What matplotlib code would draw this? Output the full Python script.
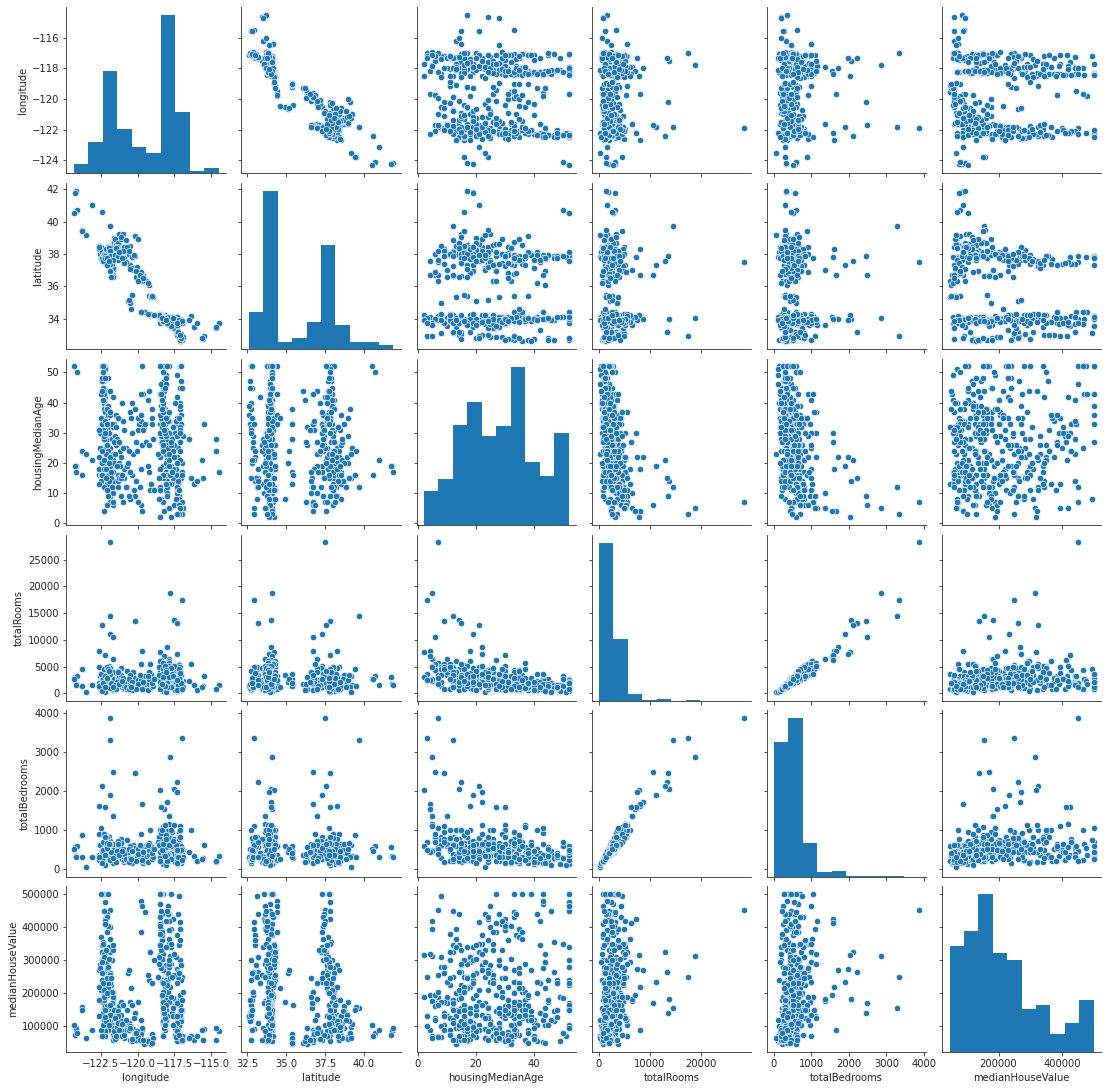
import matplotlib
matplotlib.use("Agg")
import matplotlib.pyplot as plt
import numpy as np

names = ["longitude", "latitude", "housingMedianAge", "totalRooms", "totalBedrooms", "medianHouseValue"]

longitude = [
-121.9,-117.8,-117.0,-121.85,-120.2,-117.5,-117.3,-122.4,-121.85,-121.7,
-118.0,-122.65,-119.7,-118.5,-117.3,-117.9,-121.65,-118.2,-122.2,-118.4,
-118.3,-118.2,-118.4,-118.1,-118.3,-118.0,-118.2,-118.35,-118.15,-118.25,
-118.45,-118.1,-118.2,-118.3,-118.05,-118.5,-118.25,-118.15,-118.4,-118.0,
-118.35,-118.2,-118.05,-118.3,-118.15,-118.45,-117.95,-118.1,-118.25,-118.4,
-118.5,-118.3,-118.2,-118.1,-118.0,-118.35,-118.15,-118.25,-118.05,-118.4,
-118.3,-118.45,-118.2,-118.1,-117.95,-118.3,-118.15,-118.4,-118.05,-118.25,
-118.2,-118.35,-118.5,-118.0,-118.1,-118.25,-118.4,-118.15,-118.3,-118.05,
-118.3,-118.2,-118.1,-118.45,-118.0,-118.15,-118.35,-118.25,-118.05,-118.55,
-117.85,-117.7,-117.6,-117.8,-117.3,-117.2,-117.1,-117.15,-117.05,-117.25,
-117.4,-117.35,-117.2,-117.6,-117.9,-117.0,-117.15,-117.3,-117.5,-117.75,
-117.05,-117.2,-117.3,-117.45,-117.1,-116.95,-117.65,-117.25,-117.35,-117.0,
-117.2,-117.15,-117.3,-117.7,-117.85,-117.6,-117.05,-117.4,-117.25,-117.1,
-117.35,-117.0,-117.15,-117.95,-117.5,-117.8,-117.25,-117.9,-117.1,-117.05,
-117.2,-117.3,-117.6,-117.85,-117.05,-117.15,-117.7,-117.3,-117.1,-117.9,
-122.4,-122.3,-122.2,-122.1,-122.0,-121.9,-122.25,-122.45,-122.15,-122.05,
-122.5,-122.2,-122.0,-122.35,-121.95,-121.85,-122.1,-122.55,-122.3,-122.2,
-122.0,-122.1,-121.9,-122.4,-122.25,-122.05,-121.8,-122.3,-122.15,-122.6,
-122.45,-122.0,-122.2,-122.3,-121.85,-122.1,-122.35,-121.95,-122.25,-122.5,
-122.65,-122.4,-122.05,-122.2,-121.75,-122.15,-122.3,-121.7,-122.0,-122.1,
-121.8,-122.25,-122.45,-122.0,-121.65,-122.1,-122.35,-121.75,-122.2,-121.9,
-121.7,-121.6,-121.85,-121.5,-122.3,-121.95,-122.0,-121.65,-121.8,-121.7,
-122.5,-122.2,-121.6,-121.75,-121.5,-121.85,-122.05,-122.65,-122.4,-121.9,
-122.3,-121.6,-122.0,-122.35,-121.55,-122.15,-121.7,-121.85,-122.25,-122.55,
-121.4,-121.3,-121.2,-121.0,-120.9,-120.7,-120.5,-120.3,-120.0,-119.8,
-121.45,-121.25,-121.1,-120.8,-120.6,-120.4,-120.1,-119.9,-119.7,-119.6,
-121.35,-121.15,-121.05,-120.95,-120.55,-120.25,-119.8,-119.75,-119.55,-119.4,
-121.25,-121.0,-120.2,-120.0,-120.75,-119.25,-119.2,-119.1,-119.3,-119.05,
-120.65,-120.5,-120.4,-119.8,-119.7,-119.5,-119.2,-119.0,-120.6,-119.15,
-124.2,-124.15,-124.25,-124.1,-124.3,-123.8,-123.5,-123.8,-123.1,-122.4,
-116.4,-116.2,-115.55,-115.5,-114.65,-114.5,-116.0,-115.6,-116.5,-114.7,
-118.6,-118.5,-118.0,-117.95,-117.9,-118.45,-118.3,-118.1,-118.25,-117.85,
-117.1,-117.3,-117.0,-117.2,-116.95,-117.55,-117.65,-117.4,-117.7,-117.45,
-118.2,-118.1,-118.4,-118.3,-118.05,-117.95,-118.35,-118.15,-117.9,-118.0,
-117.25,-117.15,-117.05,-117.3,-117.6,-117.75,-117.2,-117.0,-117.35,-117.1,
-118.45,-118.3,-118.2,-118.55,-118.1,-118.0,-118.25,-118.15,-118.35,-118.05,
-122.5,-122.4,-122.35,-122.25,-122.15,-122.05,-121.95,-121.85,-121.75,-121.6,
-121.2,-120.9,-121.1,-120.8,-120.6,-120.35,-120.05,-121.3,-121.0,-120.5,
-122.6,-122.45,-122.3,-122.15,-122.0,-121.9,-121.8,-122.35,-122.2,-122.1,
-121.4,-121.55,-121.5,-121.65,-121.35,-121.25,-121.05,-122.2,-122.05,-121.95,
-119.75,-119.95,-120.1,-119.85,-119.65,-120.45,-119.3,-118.95,-119.05,-118.9,
]

latitude = [
37.5,34.05,32.95,39.7,37.85,34.0,33.15,37.55,37.3,36.7,
34.0,38.3,36.7,34.2,33.9,33.6,37.0,34.1,37.8,34.0,
34.0,33.9,34.05,34.1,33.95,33.85,34.0,34.1,33.95,34.05,
34.15,33.9,33.95,34.05,34.0,34.2,33.9,34.05,34.0,33.85,
33.8,34.1,33.95,34.0,34.2,33.98,34.0,34.05,33.95,34.2,
34.25,33.95,33.93,34.02,33.92,34.05,33.98,34.08,34.1,33.93,
34.0,34.05,33.9,34.08,33.88,33.9,34.02,33.98,33.93,34.15,
33.95,34.08,34.2,34.0,33.9,33.96,34.03,34.12,33.93,33.98,
33.85,34.0,33.95,34.15,34.05,33.9,33.75,34.02,33.92,34.28,
33.7,33.6,33.9,33.8,33.95,33.0,32.7,32.75,32.65,32.85,
33.2,34.05,33.8,33.55,33.75,32.8,32.72,33.95,33.95,33.65,
32.6,33.1,33.0,34.0,32.8,33.7,34.1,34.05,34.1,33.75,
34.05,32.95,33.55,33.5,33.68,34.0,32.7,34.0,33.1,32.85,
33.3,33.9,32.72,33.85,33.45,33.85,33.85,33.65,32.75,33.05,
33.95,34.1,33.95,33.9,32.68,33.7,33.9,33.9,32.62,33.8,
37.75,37.85,37.8,37.4,37.3,37.35,37.85,37.78,37.7,37.35,
37.7,37.5,37.35,37.9,37.3,37.25,37.65,38.25,37.95,37.45,
37.95,37.6,37.35,37.95,37.8,37.95,37.75,38.1,37.4,38.4,
37.72,38.25,37.75,37.98,37.65,37.85,37.93,37.28,37.78,38.05,
38.3,37.95,38.0,38.05,38.0,37.62,37.95,37.1,37.6,38.0,
38.0,38.1,37.75,38.4,38.55,38.0,37.95,37.35,37.8,38.0,
38.6,38.7,38.0,38.55,38.2,38.1,37.95,38.4,36.65,36.7,
38.4,37.8,38.75,36.65,38.6,36.95,38.1,38.5,37.65,36.95,
37.55,39.0,37.9,37.95,38.95,37.75,36.6,37.35,37.68,38.0,
38.6,38.5,38.0,37.6,37.75,38.1,37.3,37.0,36.8,36.8,
38.55,38.7,38.3,37.5,38.0,37.8,36.6,36.75,36.35,36.7,
38.65,38.9,37.65,38.4,38.5,37.95,36.8,36.85,36.35,36.3,
39.2,39.25,39.1,38.95,38.45,36.05,35.4,35.35,36.2,35.4,
35.1,34.95,35.45,34.42,34.42,34.4,34.25,34.2,35.15,34.3,
41.8,41.9,41.75,40.7,40.5,39.5,39.15,39.4,41.0,40.6,
34.15,33.5,32.75,32.95,33.45,33.7,33.7,32.8,33.9,33.5,
34.2,34.02,33.75,33.65,33.85,33.75,33.8,34.1,33.85,33.6,
32.9,33.2,32.65,32.78,32.85,33.8,33.6,33.9,33.7,33.95,
33.98,33.93,33.97,33.95,33.78,34.1,33.92,34.0,33.7,34.12,
33.15,32.7,32.8,33.6,34.05,33.55,33.9,33.85,33.75,33.0,
34.1,34.0,33.88,34.22,33.82,33.7,33.83,34.05,34.03,33.9,
37.75,38.1,37.85,38.0,38.3,38.0,38.35,38.2,37.7,37.9,
37.8,37.45,39.05,38.85,38.2,37.15,37.2,37.65,38.15,37.05,
38.45,37.75,37.92,37.42,37.85,37.9,36.6,37.55,37.85,37.3,
38.45,37.95,38.35,37.65,37.9,38.1,37.75,37.75,37.75,37.55,
34.42,36.3,36.95,36.7,36.5,34.6,34.3,35.35,35.4,34.2,
]

housingMedianAge = [
7,5,3,12,9,14,15,21,19,6,
22,18,4,2,22,5,10,4,30,27,
52,52,52,49,45,36,38,41,30,35,
33,28,25,44,17,22,19,37,39,14,
31,29,34,27,52,43,16,13,35,8,
18,40,47,24,21,32,36,50,11,29,
52,30,33,26,20,15,38,46,23,7,
37,34,12,19,28,42,35,31,25,16,
39,44,20,36,10,33,27,40,31,8,
21,17,15,29,33,14,38,52,33,25,
18,11,9,24,52,20,32,16,6,13,
36,8,22,30,45,5,28,13,35,17,
3,21,10,19,30,24,52,34,12,27,
42,7,40,37,26,16,11,23,31,15,
6,49,18,34,47,5,2,29,39,13,
52,52,52,28,33,25,52,52,44,24,
35,42,32,47,17,12,33,25,38,29,
16,22,9,33,44,19,15,41,26,22,
47,20,37,28,7,35,45,30,40,14,
16,52,13,31,19,25,43,23,36,39,
10,52,48,24,17,6,31,28,34,15,
21,14,18,26,12,16,39,32,15,7,
16,51,33,12,27,19,38,13,20,44,
4,20,48,41,29,23,10,36,18,30,
28,16,24,34,15,12,37,23,31,18,
36,20,9,25,17,30,14,33,26,43,
14,22,40,18,8,11,34,6,32,27,
15,25,38,35,19,44,17,13,41,33,
20,8,16,43,52,33,26,35,24,11,
19,17,19,50,52,24,23,16,21,16,
15,13,15,33,24,17,14,21,28,28,
23,11,9,25,37,30,16,48,33,5,
5,12,45,35,29,22,17,8,26,40,
52,46,43,37,29,34,41,30,19,52,
14,30,52,20,32,27,11,16,3,24,
52,26,31,15,35,12,24,45,38,13,
43,24,50,29,18,11,14,22,33,27,
19,31,15,12,9,40,24,35,7,17,
31,44,21,15,9,37,17,52,30,26,
19,23,32,42,12,27,16,48,33,20,
36,7,27,12,31,35,19,28,38,11,
]

totalRooms = [
28258,18700,17500,14560,13600,13650,13250,12870,11190,10600,
8700,8000,8000,7800,7400,6500,6500,7000,7200,6300,
1200,2100,1800,1500,2600,3100,900,2300,1700,3400,
4400,2800,1300,700,3800,5100,2400,1900,2900,4600,
1600,3300,2200,1000,800,2700,5300,4200,600,3700,
6000,1400,1100,3000,2000,2500,3500,1300,4800,2200,
1500,900,2700,1800,4100,3200,700,2000,2600,5600,
1700,2300,3900,2900,1200,1400,2100,2400,3600,3000,
2800,1000,1900,1700,4500,2600,3300,500,2200,4900,
5000,3600,2500,2100,1800,3000,1600,800,1400,4000,
3400,2700,5500,2000,1000,1700,2100,3100,4300,3800,
1300,4500,2800,1500,900,2300,3700,2000,1100,1200,
3600,3200,4200,2400,1700,1900,600,2700,5000,2300,
2200,1800,1300,2900,4700,3300,2500,2000,800,3500,
5300,400,3800,1500,1000,2600,3100,1200,1500,6100,
1400,1100,2300,3200,3600,2700,1900,900,1700,4300,
800,1300,2900,1500,5200,4700,2200,3300,1000,2400,
4000,2100,3800,1200,700,3100,2800,1600,1900,5000,
1000,2300,1500,2600,3500,1800,1300,2900,600,2000,
1900,1700,2400,1400,900,3000,1100,2500,1800,1200,
3400,500,1600,2000,1500,4400,2100,3700,800,2800,
2300,1300,1700,3100,2000,1000,1400,600,1900,2700,
1000,300,2500,2200,1800,4700,1500,1100,2900,1300,
2400,2600,1200,800,1700,3200,3900,1600,2100,1500,
1900,2900,1500,2300,800,4200,1200,3900,2600,1100,
1400,3400,4800,1700,2200,700,2500,1500,3100,600,
2700,2100,1100,1000,1300,2800,2000,5400,900,1700,
3300,1600,1200,2400,900,1800,2600,3700,700,1300,
2200,3500,1500,1700,900,3200,4000,1100,2600,5500,
1800,1500,3100,3200,2700,1400,200,4600,1600,2600,
5500,1600,1300,3300,800,1600,700,1200,2300,800,
3200,800,5000,4300,5600,2600,1500,1000,3900,5200,
4900,2400,1800,2900,1100,5100,3700,2200,4800,600,
2400,300,3400,4500,2300,1800,3600,5100,3000,2000,
1500,4100,2000,700,3300,1200,4600,900,2500,3800,
2200,2800,1600,3500,4300,1100,3000,1300,1800,4000,
3700,1200,2600,4600,3100,5000,2200,3700,1400,900,
2500,1900,3400,1100,800,2100,1600,4100,2900,1300,
1300,500,1700,3000,4500,1000,2000,1900,3300,2600,
2100,1500,800,1100,3900,1700,2300,1200,2800,4200,
2500,1800,900,3500,2200,1200,3300,1400,2000,2600,
]

totalBedrooms = [
3864,2870,3345,3295,2465,2060,2230,2120,1905,2490,
1715,1610,1655,2035,1976,1370,1370,1550,1590,1590,
260,430,370,300,560,610,210,520,330,640,
780,520,300,190,690,900,510,390,690,760,
310,620,470,270,180,650,880,750,160,720,
1000,350,250,530,400,610,690,290,830,480,
380,240,540,350,700,570,170,470,500,1040,
420,520,680,520,260,340,480,470,710,590,
630,280,360,320,740,500,640,130,440,810,
800,610,440,430,330,500,370,190,300,690,
560,490,960,350,240,310,520,610,730,600,
260,750,510,320,210,480,660,400,280,270,
690,550,720,410,330,380,150,530,810,460,
420,390,340,560,760,570,470,370,220,590,
820,120,690,310,270,470,580,300,320,1010,
380,280,540,560,590,480,470,280,360,690,
220,300,440,370,810,720,480,620,250,450,
680,430,620,300,210,530,470,330,360,900,
290,420,370,520,560,350,320,530,180,360,
360,440,400,270,230,500,290,470,330,280,
590,130,420,400,320,700,430,600,200,470,
470,300,380,650,330,240,310,160,430,480,
220,100,490,400,370,730,330,240,500,320,
430,510,300,240,380,580,640,320,430,300,
360,580,310,420,190,750,260,630,500,230,
300,640,780,350,460,170,510,310,560,160,
480,420,260,240,290,540,370,900,220,330,
620,330,300,520,220,360,500,580,190,280,
430,600,290,360,240,600,680,260,520,1000,
330,320,560,580,520,300,60,880,310,470,
1000,330,280,620,180,340,200,250,450,200,
700,210,1100,1000,1120,650,420,310,960,1150,
1100,700,520,800,300,1130,950,620,1000,190,
600,100,920,1080,570,400,1000,1120,620,360,
300,1000,500,170,720,260,780,240,490,820,
450,640,380,620,880,220,650,330,500,780,
1050,270,700,900,560,800,430,640,320,240,
520,400,680,270,190,460,340,720,520,290,
300,160,460,520,700,240,430,500,830,550,
460,340,190,280,640,360,470,360,660,650,
600,400,220,620,450,260,620,300,420,510,
]

medianHouseValue = [
451000,314000,248000,154000,139000,184000,263000,326000,233000,169000,
269000,220000,88000,317000,272000,178000,184000,196000,425000,413000,
500000,170000,500000,190000,240000,205000,120000,440000,160000,230000,
430000,285000,95000,320000,215000,350000,110000,180000,500000,265000,
360000,130000,155000,145000,340000,470000,250000,200000,75000,280000,
295000,110000,145000,210000,175000,305000,150000,185000,225000,330000,
165000,410000,125000,240000,260000,200000,90000,450000,170000,190000,
135000,375000,345000,185000,155000,140000,395000,220000,115000,210000,
270000,105000,195000,500000,235000,160000,385000,70000,180000,310000,
350000,290000,185000,245000,105000,345000,165000,300000,140000,265000,
310000,85000,105000,425000,280000,150000,135000,125000,160000,395000,
125000,495000,375000,75000,180000,70000,140000,95000,110000,55000,
100000,415000,170000,340000,390000,130000,240000,90000,250000,195000,
230000,72000,118000,205000,255000,220000,90000,440000,145000,285000,
125000,55000,155000,175000,115000,65000,190000,80000,130000,365000,
500000,500000,475000,440000,500000,400000,450000,500000,215000,430000,
370000,420000,405000,355000,340000,325000,270000,285000,190000,410000,
300000,285000,260000,235000,155000,240000,225000,200000,330000,270000,
265000,135000,165000,220000,255000,275000,175000,245000,110000,210000,
220000,300000,150000,160000,90000,235000,120000,330000,215000,145000,
130000,100000,240000,88000,75000,195000,140000,300000,85000,115000,
105000,95000,140000,72000,180000,130000,120000,60000,155000,205000,
88000,70000,150000,170000,65000,230000,160000,130000,345000,135000,
320000,68000,230000,105000,62000,295000,190000,365000,310000,275000,
110000,95000,125000,85000,65000,150000,60000,92000,82000,63000,
130000,160000,175000,105000,110000,55000,58000,72000,95000,52000,
145000,135000,70000,115000,100000,125000,78000,120000,46000,60000,
98000,108000,80000,175000,90000,50000,60000,47000,55000,78000,
260000,175000,165000,480000,465000,445000,240000,230000,270000,325000,
85000,95000,75000,80000,103000,158000,66000,150000,88000,70000,
72000,58000,60000,92000,60000,85000,72000,88000,65000,95000,
250000,380000,130000,465000,290000,405000,205000,150000,175000,420000,
395000,110000,180000,260000,205000,320000,250000,68000,350000,95000,
95000,120000,275000,150000,420000,440000,235000,125000,300000,225000,
440000,135000,150000,85000,105000,500000,75000,60000,130000,360000,
500000,230000,140000,290000,165000,450000,155000,105000,195000,340000,
500000,260000,350000,190000,115000,245000,105000,165000,205000,85000,
100000,75000,115000,120000,88000,62000,85000,130000,165000,95000,
180000,295000,210000,330000,280000,135000,245000,230000,150000,385000,
98000,125000,70000,345000,110000,88000,108000,128000,200000,305000,
385000,68000,80000,58000,60000,215000,255000,65000,50000,300000,
]

columns = [longitude, latitude, housingMedianAge, totalRooms, totalBedrooms, medianHouseValue]

# histogram bin counts
hist_longitude = [10, 34, 111, 48, 28, 22, 171, 66, 3, 6]
hist_latitude = [48, 206, 9, 14, 35, 135, 31, 10, 10, 5]
hist_age = [20, 27, 59, 72, 52, 58, 93, 37, 29, 54]
hist_rooms = [345, 135, 15, 2, 4, 0, 2, 0, 0, 0]
hist_bedrooms = [198, 233, 50, 7, 8, 1, 1, 1, 1, 0]
hist_value = [69, 79, 103, 65, 60, 28, 31, 12, 19, 34]
hists = [hist_longitude, hist_latitude, hist_age, hist_rooms, hist_bedrooms, hist_value]

hist_ranges = [(-124.35, -114.5), (32.58, 41.9), (2, 52), (15, 28258), (3, 3864), (46000, 500001)]
axis_limits = [(-124.84, -114.02), (32.11, 42.38), (-0.5, 54.5), (-1400, 29700), (-190, 4060), (21000, 524000)]
x_ticks = [[-122.5, -120, -117.5, -115], [32.5, 35, 37.5, 40], [0, 20, 40],
           [0, 10000, 20000], [0, 1000, 2000, 3000, 4000], [200000, 400000]]
y_ticks = [[-116, -118, -120, -122, -124], [34, 36, 38, 40, 42], [0, 10, 20, 30, 40, 50],
           [0, 5000, 10000, 15000, 20000, 25000], [0, 1000, 2000, 3000, 4000],
           [100000, 200000, 300000, 400000, 500000]]

W, H = 1108, 1090
INK = "#262626"
BLUE = "#1f77b4"
plt.rcParams.update({"font.family": "DejaVu Sans", "font.size": 10,
                     "axes.labelcolor": INK, "xtick.color": INK, "ytick.color": INK,
                     "axes.edgecolor": INK, "axes.unicode_minus": True})
fig = plt.figure(figsize=(W / 72, H / 72), dpi=72, facecolor="white")

left0, col_step, panel_w = 66.3, 175.1, 159.4
top0, row_step, panel_h = 7.2, 175.8, 166.2

for r in range(6):
    for c in range(6):
        x0 = left0 + c * col_step
        y0 = top0 + r * row_step
        ax = fig.add_axes([x0 / W, 1 - (y0 + panel_h) / H, panel_w / W, panel_h / H])
        for side in ("top", "right"):
            ax.spines[side].set_visible(False)
        if r == c:
            lo, hi = hist_ranges[c]
            edges = np.linspace(lo, hi, 11)
            hx = ax.twinx()
            hx.bar(edges[:-1], hists[c], width=np.diff(edges), align="edge", color=BLUE, linewidth=0)
            hx.set_ylim(0, max(hists[c]) * 1.05)
            hx.axis("off")
        else:
            ax.scatter(columns[c], columns[r], s=40, color=BLUE, edgecolor="white", linewidth=0.6)
        ax.set_xlim(*axis_limits[c])
        ax.set_ylim(*axis_limits[r])
        ax.set_xticks(x_ticks[c])
        ax.set_yticks(y_ticks[r])
        ax.tick_params(labelbottom=(r == 5), labelleft=(c == 0))
        if r == 5:
            ax.set_xlabel(names[c])
        if c == 0:
            ax.set_ylabel(names[r])

fig.savefig("out.png", dpi=72, facecolor="white")
